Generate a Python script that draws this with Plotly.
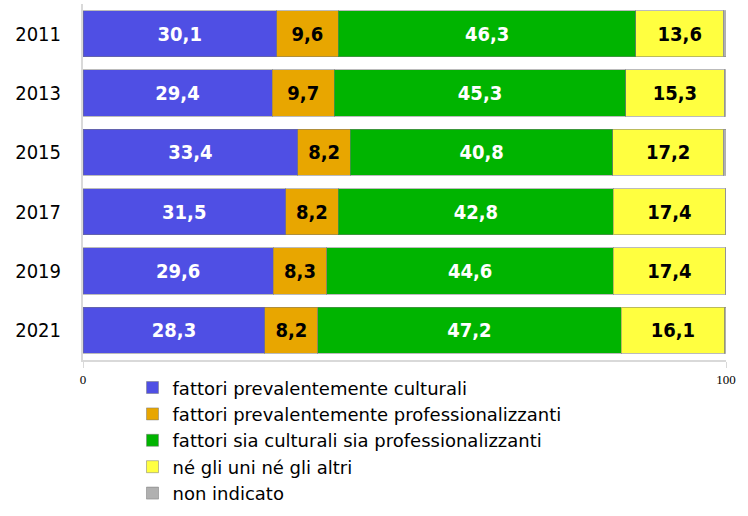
import plotly.graph_objects as go

anni = ["2011", "2013", "2015", "2017", "2019", "2021"]
culturali = [30.1, 29.4, 33.4, 31.5, 29.6, 28.3]
professionali = [9.6, 9.7, 8.2, 8.2, 8.3, 8.2]
entrambi = [46.3, 45.3, 40.8, 42.8, 44.6, 47.2]
nessuno = [13.6, 15.3, 17.2, 17.4, 17.4, 16.1]
non_indicato = [0.4, 0.3, 0.4, 0.1, 0.1, 0.2]

serie = [
    ("fattori prevalentemente culturali", culturali, "#4f4fe4", "white"),
    ("fattori prevalentemente professionalizzanti", professionali, "#e8a600", "black"),
    ("fattori sia culturali sia professionalizzanti", entrambi, "#00b400", "white"),
    ("né gli uni né gli altri", nessuno, "#ffff40", "black"),
    ("non indicato", non_indicato, "#b0b0b0", "black"),
]

font = "DejaVu Sans Condensed, DejaVu Sans, sans-serif"

fig = go.Figure()
for nome, valori, colore, col_testo in serie:
    fig.add_trace(go.Bar(
        y=anni, x=valori, name=nome, orientation="h",
        marker=dict(color=colore, line=dict(color="rgba(120,120,120,0.5)", width=1)),
        texttemplate="%{x:.1f}" if nome != "non indicato" else "",
        textposition="inside", insidetextanchor="middle", textangle=0,
        insidetextfont=dict(family=font, size=20, color=col_testo, weight="bold"),
    ))

fig.update_layout(
    barmode="stack",
    bargap=0.22,
    separators=",.",
    width=748, height=516,
    margin=dict(l=83, r=22, t=4, b=154),
    plot_bgcolor="white", paper_bgcolor="white",
    font=dict(family=font, size=20, color="black"),
    legend=dict(
        orientation="v", x=0.077, y=-0.425, xanchor="left", yanchor="bottom",
        traceorder="normal",
        font=dict(family="DejaVu Sans, sans-serif", size=18, color="black"),
        tracegroupgap=0, itemwidth=30,
    ),
)
fig.update_yaxes(
    autorange="reversed", showline=True, linecolor="#d9d9d9", linewidth=2,
    ticks="", ticklabelstandoff=16, tickfont=dict(size=20), automargin=False,
)
fig.update_xaxes(
    range=[0, 100], tickvals=[0, 100], showgrid=False, zeroline=False,
    showline=True, linecolor="#d9d9d9", linewidth=2,
    ticks="outside", ticklen=6, tickcolor="#d9d9d9", automargin=False,
    tickfont=dict(family="Liberation Serif", size=13, color="black"),
)

# niente margine di pagina, la figura parte dall'angolo in alto a sinistra
fig.write_html("out.html", config={"displayModeBar": False},
               post_script="document.body.style.margin='0';")
